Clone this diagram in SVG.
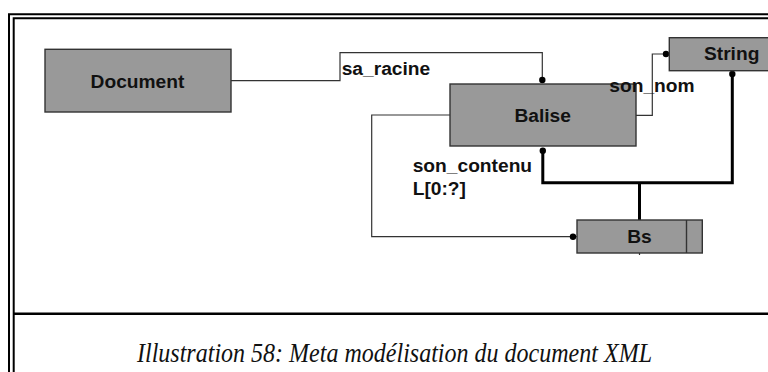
<svg xmlns="http://www.w3.org/2000/svg" width="768" height="372" viewBox="0 0 768 372">
  <style>
    .box { fill: #999999; stroke: #333333; stroke-width: 1.4; }
    .name { font-family: "Liberation Sans", Arial, sans-serif; font-weight: bold; font-size: 19.2px; fill: #111111; }
    .lbl { font-family: "Liberation Sans", Arial, sans-serif; font-weight: bold; font-size: 19.2px; fill: #111111; }
    .thin { fill: none; stroke: #333333; stroke-width: 1.2; }
    .thick { fill: none; stroke: #000000; stroke-width: 3; }
    .dot { fill: #000000; }
    .frame { fill: none; stroke: #000000; stroke-width: 2; }
    .caption { font-family: "Liberation Serif", "Times New Roman", serif; font-style: italic; font-size: 28px; fill: #111111; }
  </style>

  <!-- page frame: double rule on top/left, separator above caption -->
  <g id="frame">
    <path class="frame" d="M9,372 V14.3 H768"/>
    <path class="frame" d="M13.7,372 V18.3 H768"/>
    <line x1="13.7" y1="313.7" x2="768" y2="313.7" stroke="#000" stroke-width="2.6"/>
  </g>

  <!-- connectors -->
  <g id="connectors">
    <!-- sa_racine : Document -> Balise -->
    <path class="thin" d="M231,80.7 H340 V52.7 H542.3 V80"/>
    <circle class="dot" cx="542.3" cy="80" r="3.2"/>
    <!-- son_nom : Balise -> String -->
    <path class="thin" d="M636,115.3 H652.3 V54 H669"/>
    <circle class="dot" cx="666" cy="54" r="3.2"/>
    <!-- son_contenu : Balise -> Bs (list) -->
    <path class="thin" d="M450,115 H371.7 V236.7 H577"/>
    <circle class="dot" cx="573" cy="236.7" r="3.2"/>
    <!-- Bs union of Balise and String -->
    <path class="thick" d="M542.8,150.7 V182.7 H732.3 V74"/>
    <path class="thick" d="M639.5,182.7 V220"/>
    <line x1="639.5" y1="253" x2="639.5" y2="255" stroke="#333" stroke-width="1.2"/>
    <circle class="dot" cx="542.8" cy="150.7" r="3.2"/>
    <circle class="dot" cx="732.3" cy="74" r="3.2"/>
  </g>

  <g id="document">
    <rect class="box" x="45" y="49.3" width="186" height="62.7"/>
    <text class="name" x="137.5" y="88.3" text-anchor="middle">Document</text>
  </g>

  <g id="balise">
    <rect class="box" x="450" y="84" width="186" height="62"/>
    <text class="name" x="542.7" y="121.7" text-anchor="middle">Balise</text>
  </g>

  <g id="string">
    <rect class="box" x="669.3" y="37.7" width="102" height="33"/>
    <text class="name" x="731.7" y="59.5" text-anchor="middle">String</text>
  </g>

  <g id="bs">
    <rect class="box" x="577" y="220" width="125.3" height="33"/>
    <line x1="686.5" y1="220" x2="686.5" y2="253" stroke="#333" stroke-width="1.4"/>
    <text class="name" x="639.5" y="243.3" text-anchor="middle">Bs</text>
  </g>

  <!-- role labels, drawn over the boxes -->
  <g id="labels">
    <text class="lbl" x="341.7" y="75">sa_racine</text>
    <text class="lbl" x="609.3" y="91.7">son_nom</text>
    <text class="lbl" x="412.7" y="171.7">son_contenu</text>
    <text class="lbl" x="412.7" y="194.5">L[0:?]</text>
  </g>

  <text class="caption" x="137" y="362" textLength="515" lengthAdjust="spacingAndGlyphs">Illustration 58: Meta modélisation du document XML</text>
</svg>
